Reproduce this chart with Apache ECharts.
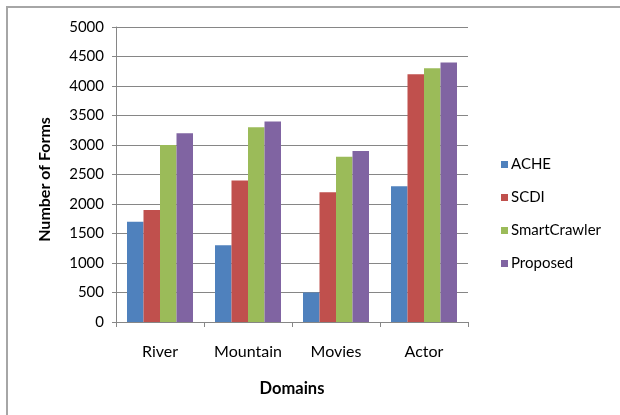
<!DOCTYPE html>
<html>
<head>
<meta charset="utf-8">
<script src="https://cdn.jsdelivr.net/npm/echarts@6/dist/echarts.min.js"></script>
<style>
  html, body { margin: 0; padding: 0; background: #fff; overflow: hidden; width: 620px; height: 415px; }
  #frame { position: absolute; left: 6px; top: 6px; width: 640px; height: 440px; border: 2px solid #a6a6a6; box-sizing: border-box; }
  #chart { position: absolute; left: 0; top: 0; width: 620px; height: 415px; }
</style>
</head>
<body>
<div id="frame"></div>
<div id="chart"></div>
<script>
// Forms harvested per domain by each crawler
const domains = ['River', 'Mountain', 'Movies', 'Actor'];
const ache = [1700, 1300, 500, 2300];
const scdi = [1900, 2400, 2200, 4200];
const smartCrawler = [3000, 3300, 2800, 4300];
const proposed = [3200, 3400, 2900, 4400];
const yTicks = { min: 0, max: 5000, interval: 500 };

const FONT = 'Lato';
const colors = ['#4F81BD', '#C0504D', '#9BBB59', '#8064A2'];

const chart = echarts.init(document.getElementById('chart'), null, { renderer: 'canvas' });

function bar(name, data) {
  return { name, type: 'bar', data, barGap: '0%', barCategoryGap: '25%' };
}

chart.setOption({
  animation: false,
  color: colors,
  textStyle: { fontFamily: FONT },
  grid: { left: 116, right: 152, top: 27, bottom: 93 },
  legend: {
    orient: 'vertical',
    left: 496, top: 152,
    itemWidth: 7, itemHeight: 7, itemGap: 18,
    icon: 'rect',
    textStyle: { fontFamily: FONT, fontSize: 15, color: '#000', padding: [0, 0, 0, -2] },
    data: ['ACHE', 'SCDI', 'SmartCrawler', 'Proposed']
  },
  xAxis: {
    type: 'category',
    data: domains,
    name: 'Domains',
    nameLocation: 'middle',
    nameGap: 58,
    nameTextStyle: { fontFamily: FONT, fontWeight: 'bold', fontSize: 16.5, color: '#000' },
    axisLine: { lineStyle: { color: '#868686', width: 1 } },
    axisTick: { show: true, inside: false, length: 5, alignWithLabel: false, lineStyle: { color: '#868686' } },
    axisLabel: { interval: 0, hideOverlap: false, fontFamily: FONT, fontSize: 16, color: '#000', margin: 22 }
  },
  yAxis: {
    type: 'value',
    min: yTicks.min, max: yTicks.max, interval: yTicks.interval,
    name: 'Number of Forms',
    nameLocation: 'middle',
    nameGap: 63,
    nameTextStyle: { fontFamily: FONT, fontWeight: 'bold', fontSize: 16, color: '#000', padding: [0, 10, 0, 0] },
    axisLine: { show: true, lineStyle: { color: '#868686', width: 1 } },
    axisTick: { show: true, length: 4, lineStyle: { color: '#868686' } },
    axisLabel: { fontFamily: FONT, fontSize: 15, color: '#000', margin: 12, formatter: (v) => String(v) },
    splitLine: { show: true, lineStyle: { color: '#868686', width: 1 } }
  },
  series: [
    bar('ACHE', ache),
    bar('SCDI', scdi),
    bar('SmartCrawler', smartCrawler),
    bar('Proposed', proposed)
  ]
});
</script>
</body>
</html>
